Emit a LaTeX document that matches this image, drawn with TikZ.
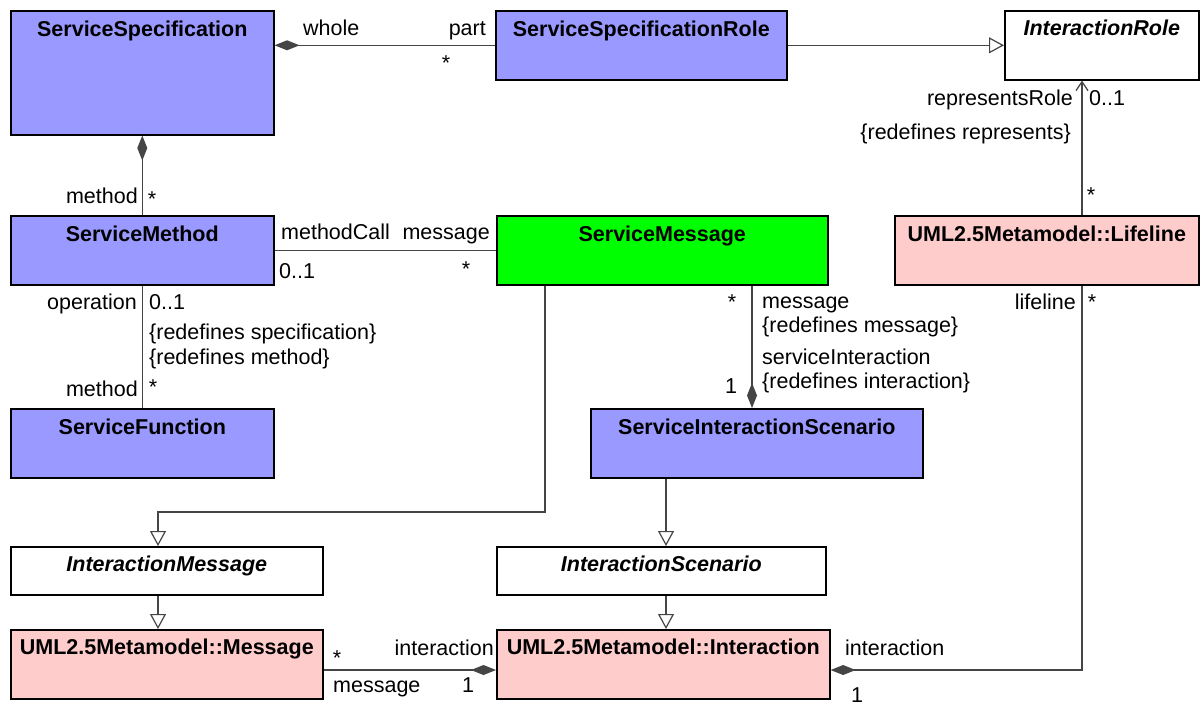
\documentclass[tikz,border=0pt]{standalone}
\usepackage{fontspec}
\setmainfont{Liberation Sans}
\usetikzlibrary{arrows.meta,calc}
\definecolor{specblue}{HTML}{9999FF}
\definecolor{msggreen}{HTML}{00FF00}
\definecolor{umlpink}{HTML}{FFCCCC}
\definecolor{conncol}{HTML}{454545}
\tikzset{
  box/.style={draw=black, line width=1.6pt, anchor=north west, inner sep=0pt},
  title/.style={anchor=base, inner sep=0pt, font=\fontsize{21.5}{25}\selectfont\bfseries},
  ititle/.style={title, font=\fontsize{21.5}{25}\selectfont\bfseries\itshape},
  lbl/.style={inner sep=0pt, font=\fontsize{21.5}{25}\selectfont},
  conn/.style={draw=conncol, line width=1.6pt},
  gen/.style={-{Triangle[open, length=15pt, width=16pt, fill=white, line width=1.2pt]}},
  compstart/.style={{Diamond[length=25pt, width=10pt]}-},
  compend/.style={-{Diamond[length=25pt, width=10pt]}},
  navarrow/.style={-{Straight Barb[length=9pt, width=12pt, line width=1.2pt]}}
}
\begin{document}
\begin{tikzpicture}[x=1pt, y=-1pt]
\useasboundingbox (0,0) rectangle (1200,705);
\fill[white] (0,0) rectangle (1200,705);

% boxes
\node[box, fill=specblue, minimum width=263pt, minimum height=124pt] (ss) at (10,10) {};
\node[box, fill=specblue, minimum width=291pt, minimum height=69pt] (ssr) at (495,10) {};
\node[box, fill=white, minimum width=194pt, minimum height=69pt] (ir) at (1004,10) {};
\node[box, fill=specblue, minimum width=263pt, minimum height=69pt] (sm) at (10,215) {};
\node[box, fill=msggreen, minimum width=331pt, minimum height=69pt] (smsg) at (496,215) {};
\node[box, fill=umlpink, minimum width=304pt, minimum height=69pt] (ll) at (894,215) {};
\node[box, fill=specblue, minimum width=263pt, minimum height=69pt] (sf) at (10,408) {};
\node[box, fill=specblue, minimum width=332pt, minimum height=69pt] (sis) at (590,408) {};
\node[box, fill=white, minimum width=312pt, minimum height=48pt] (im) at (10,546) {};
\node[box, fill=white, minimum width=329pt, minimum height=48pt] (is) at (496,546) {};
\node[box, fill=umlpink, minimum width=312pt, minimum height=69pt] (msg) at (10,629) {};
\node[box, fill=umlpink, minimum width=333pt, minimum height=69pt] (inter) at (496,629) {};

% titles
\node[title] (ss-t) at ($(ss.north)+(0,26)$) {ServiceSpecification};
\node[title] (ssr-t) at ($(ssr.north)+(0,26)$) {ServiceSpecificationRole};
\node[ititle] (ir-t) at ($(ir.north)+(0,25)$) {InteractionRole};
\node[title] (sm-t) at ($(sm.north)+(0,26)$) {ServiceMethod};
\node[title] (smsg-t) at ($(smsg.north)+(0,26)$) {ServiceMessage};
\node[title] (ll-t) at ($(ll.north)+(0,26)$) {UML2.5Metamodel::Lifeline};
\node[title] (sf-t) at ($(sf.north)+(0,26)$) {ServiceFunction};
\node[title] (sis-t) at ($(sis.north)+(0,26)$) {ServiceInteractionScenario};
\node[ititle] (im-t) at ($(im.north)+(0,25)$) {InteractionMessage};
\node[ititle] (is-t) at ($(is.north)+(0,25)$) {InteractionScenario};
\node[title] (msg-t) at ($(msg.north)+(0,25)$) {UML2.5Metamodel::Message};
\node[title] (inter-t) at ($(inter.north)+(0,25)$) {UML2.5Metamodel::Interaction};

% helper coordinates
\coordinate (lx) at (1082,0);
\coordinate (mx) at (752,0);
\coordinate (gx1) at (545,512);
\coordinate (gx2) at (158,0);
\coordinate (sx) at (666,0);
\coordinate (hy) at (0,670);

% connectors
\draw[conn, compstart] (ss.east |- ssr.west) -- (ssr.west);
\draw[conn, gen] (ssr.east) -- (ir.west);
\draw[conn, compstart] (ss.south) -- (sm.north);
\draw[conn] (sm.east) -- (smsg.west);
\draw[conn] (sm.south) -- (sf.north);
\draw[conn, navarrow] (ll.north -| lx) -- (ir.south -| lx);
\draw[conn, compend] (smsg.south -| mx) -- (sis.north -| mx);
\draw[conn, gen] (smsg.south -| gx1) -- (gx1) -- (gx1 -| gx2) -- (im.north -| gx2);
\draw[conn, gen] (sis.south -| sx) -- (is.north -| sx);
\draw[conn, gen] (im.south -| gx2) -- (msg.north -| gx2);
\draw[conn, gen] (is.south -| sx) -- (inter.north -| sx);
\draw[conn, compend] (msg.east |- hy) -- (inter.west |- hy);
\draw[conn, compend] (ll.south -| lx) |- (inter.east |- hy);

% labels
\node[lbl, anchor=base west] (l1) at (303,35) {whole};
\node[lbl, anchor=base east] (l2) at (486,35) {part};
\node[lbl, anchor=base] (l3) at (446,70) {*};
\node[lbl, anchor=base east] (l4) at (138,203) {method};
\node[lbl, anchor=base] (l5) at (152,206) {*};
\node[lbl, anchor=base west] (l6) at (281,239) {methodCall};
\node[lbl, anchor=base east] (l7) at (490,239) {message};
\node[lbl, anchor=base west] (l8) at (279,278) {0..1};
\node[lbl, anchor=base] (l9) at (466,276) {*};
\node[lbl, anchor=base east] (l10) at (137,309) {operation};
\node[lbl, anchor=base west] (l11) at (149,309) {0..1};
\node[lbl, anchor=base west] (l12) at (149,339) {\{redefines specification\}};
\node[lbl, anchor=base west] (l13) at (149,364) {\{redefines method\}};
\node[lbl, anchor=base east] (l14) at (138,396) {method};
\node[lbl, anchor=base] (l15) at (153,394) {*};
\node[lbl, anchor=base east] (l16) at (1073,105) {representsRole};
\node[lbl, anchor=base west] (l17) at (1089,105) {0..1};
\node[lbl, anchor=base east] (l18) at (1071,139) {\{redefines represents\}};
\node[lbl, anchor=base] (l19) at (1091,202) {*};
\node[lbl, anchor=base east] (l20) at (1076,309) {lifeline};
\node[lbl, anchor=base] (l21) at (1092,309) {*};
\node[lbl, anchor=base] (l22) at (732,309) {*};
\node[lbl, anchor=base west] (l23) at (762,308) {message};
\node[lbl, anchor=base west] (l24) at (762,332) {\{redefines message\}};
\node[lbl, anchor=base west] (l25) at (762,364) {serviceInteraction};
\node[lbl, anchor=base west] (l26) at (762,388) {\{redefines interaction\}};
\node[lbl, anchor=base] (l27) at (731,393) {1};
\node[lbl, anchor=base] (l28) at (337,665) {*};
\node[lbl, anchor=base east] (l29) at (494,655) {interaction};
\node[lbl, anchor=base west] (l30) at (333,692) {message};
\node[lbl, anchor=base] (l31) at (468,692) {1};
\node[lbl, anchor=base west] (l32) at (845,655) {interaction};
\node[lbl, anchor=base] (l33) at (857,702) {1};
\end{tikzpicture}
\end{document}
